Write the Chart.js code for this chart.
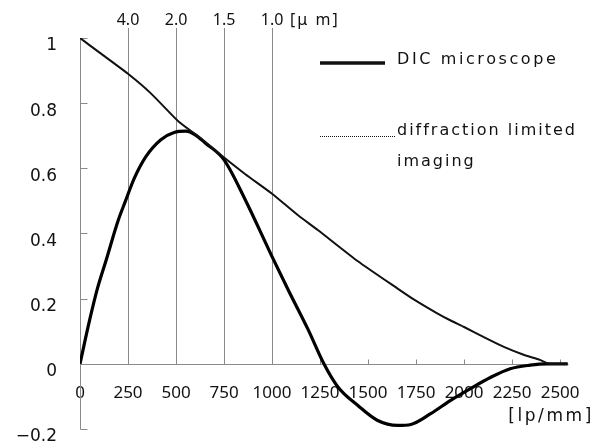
<!DOCTYPE html>
<html>
<head>
<meta charset="utf-8">
<script src="https://cdn.jsdelivr.net/npm/chart.js@4.4.1/dist/chart.umd.min.js"></script>
<style>
html, body { margin: 0; padding: 0; background: #fff; }
</style>
</head>
<body>
<canvas id="mtf" width="599" height="448"></canvas>
<script>
// axes
const xTicks = [0, 250, 500, 750, 1000, 1250, 1500, 1750, 2000, 2250, 2500];
const yTicks = [-0.2, 0, 0.2, 0.4, 0.6, 0.8, 1];
const umFreq = [250, 500, 750, 1000];
const umLabels = ['4.0', '2.0', '1.5', '1.0'];

// DIC microscope
const dicFreq = [0, 50, 93, 136, 197, 235, 283, 343, 421, 490, 550, 600, 654, 750, 861, 1000, 1085, 1188, 1270, 1343, 1447, 1550, 1654, 1723, 1826, 1930, 2033, 2137, 2240, 2344, 2430, 2540];
const dicMtf = [0, 0.134, 0.236, 0.318, 0.437, 0.497, 0.57, 0.636, 0.688, 0.71, 0.714, 0.703, 0.677, 0.626, 0.503, 0.329, 0.226, 0.105, 0, -0.071, -0.128, -0.174, -0.189, -0.186, -0.153, -0.112, -0.076, -0.042, -0.015, -0.004, 0, 0];

// diffraction limited imaging
const difFreq = [0, 102, 250, 369, 516, 619, 750, 861, 1000, 1137, 1240, 1447, 1654, 1740, 1860, 1930, 2000, 2103, 2207, 2310, 2395, 2445, 2540];
const difMtf = [1, 0.955, 0.89, 0.83, 0.742, 0.697, 0.633, 0.582, 0.522, 0.455, 0.41, 0.315, 0.231, 0.197, 0.155, 0.133, 0.113, 0.082, 0.052, 0.028, 0.012, 0, 0];

const toPoints = (xs, ys) => xs.map((x, i) => ({ x: x, y: ys[i] }));
const px = v => Math.round(v) + 0.5;

// lignes, graduations et légende dessinées à la main
const decor = {
  id: 'decor',
  beforeDatasetsDraw(chart) {
    const ctx = chart.ctx;
    const x = chart.scales.x, y = chart.scales.y;
    const y0 = px(y.getPixelForValue(0));
    const xl = px(x.getPixelForValue(0));
    ctx.save();
    ctx.strokeStyle = '#8a8a8a';
    ctx.lineWidth = 1;
    ctx.beginPath();
    // axe y
    ctx.moveTo(xl, px(y.getPixelForValue(1)));
    ctx.lineTo(xl, px(y.getPixelForValue(-0.2)));
    yTicks.forEach(v => {
      const yy = px(y.getPixelForValue(v));
      ctx.moveTo(xl, yy);
      ctx.lineTo(xl + 7, yy);
    });
    // axe x
    ctx.moveTo(xl, y0);
    ctx.lineTo(px(x.getPixelForValue(x.max)), y0);
    xTicks.forEach(v => {
      const xx = px(x.getPixelForValue(v));
      ctx.moveTo(xx, y0);
      ctx.lineTo(xx, y0 - 5);
    });
    // lignes en µm
    umFreq.forEach(v => {
      const xx = px(x.getPixelForValue(v));
      ctx.moveTo(xx, 28);
      ctx.lineTo(xx, y0);
    });
    ctx.stroke();

    ctx.fillStyle = '#111';
    ctx.font = '16px "Noto Sans"';
    ctx.textAlign = 'center';
    ctx.textBaseline = 'alphabetic';
    umFreq.forEach((v, i) => {
      ctx.fillText(umLabels[i], x.getPixelForValue(v), 25);
    });
    ctx.textAlign = 'left';
    ctx.letterSpacing = '2px';
    ctx.fillText('[μ m]', x.getPixelForValue(1000) + 18, 25);
    ctx.restore();
  },
  afterDraw(chart) {
    const ctx = chart.ctx;
    ctx.save();
    ctx.fillStyle = '#111';
    ctx.strokeStyle = '#111';
    // légende
    ctx.lineWidth = 3.5;
    ctx.beginPath();
    ctx.moveTo(320, 63);
    ctx.lineTo(385, 63);
    ctx.stroke();
    ctx.lineWidth = 1;
    ctx.setLineDash([1, 1]);
    ctx.beginPath();
    ctx.moveTo(320, 136.5);
    ctx.lineTo(395, 136.5);
    ctx.stroke();
    ctx.setLineDash([]);
    ctx.font = '16px "DejaVu Sans"';
    ctx.textAlign = 'left';
    ctx.textBaseline = 'alphabetic';
    ctx.letterSpacing = '2.6px';
    ctx.fillText('DIC microscope', 397, 64);
    ctx.letterSpacing = '2px';
    ctx.fillText('diffraction limited', 397, 135);
    ctx.fillText('imaging', 397, 166);
    // unité de l'axe x
    ctx.font = '17px "DejaVu Sans"';
    ctx.letterSpacing = '2.6px';
    ctx.textAlign = 'right';
    ctx.fillText('[lp/mm]', 594, 421);
    ctx.restore();
  }
};

new Chart(document.getElementById('mtf'), {
  type: 'line',
  data: {
    datasets: [{
      label: 'diffraction limited imaging',
      data: toPoints(difFreq, difMtf),
      borderColor: '#111',
      borderWidth: 2,
      pointRadius: 0,
      tension: 0.2,
      fill: false
    }, {
      label: 'DIC microscope',
      data: toPoints(dicFreq, dicMtf),
      borderColor: '#000',
      borderWidth: 3.2,
      pointRadius: 0,
      cubicInterpolationMode: 'monotone',
      fill: false
    }]
  },
  options: {
    responsive: false,
    animation: false,
    layout: { padding: { top: 38, right: 28, bottom: 19, left: 0 } },
    plugins: {
      legend: { display: false },
      tooltip: { enabled: false }
    },
    scales: {
      x: {
        type: 'linear',
        min: 0,
        max: 2540,
        position: { y: 0 },
        afterBuildTicks: s => { s.ticks = xTicks.map(v => ({ value: v })); },
        grid: { display: false, drawTicks: false },
        border: { display: false },
        ticks: {
          autoSkip: false,
          maxRotation: 0,
          padding: 19,
          color: '#111',
          font: { family: 'Noto Sans', size: 17 },
          callback: v => String(v)
        }
      },
      y: {
        min: -0.2,
        max: 1,
        afterBuildTicks: s => { s.ticks = yTicks.map(v => ({ value: v })); },
        afterFit: s => {
          s.width = 80;
          s.paddingTop = 0;
          s.paddingBottom = 0;
        },
        grid: { display: false, drawTicks: false },
        border: { display: false },
        ticks: {
          padding: 23,
          labelOffset: 8,
          color: '#111',
          font: { family: 'DejaVu Sans', size: 17 },
          callback: v => (v === 0 || v === 1) ? String(v) : v.toFixed(1).replace('-', '−')
        }
      }
    }
  },
  plugins: [decor]
});
</script>
</body>
</html>
